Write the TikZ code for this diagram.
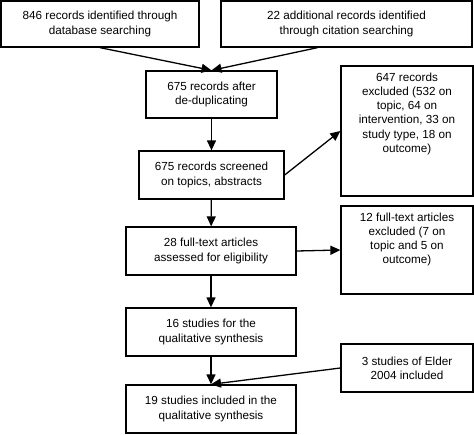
\documentclass[tikz,border=0pt]{standalone}
\usepackage{fontspec}
\setmainfont{Liberation Sans}
\usetikzlibrary{arrows.meta}

\begin{document}
\begin{tikzpicture}[x=1pt,y=-1pt,
  recbox/.style={draw=black, line width=1.3pt, align=center, inner sep=0pt,
    font=\fontsize{11.7}{14.3}\selectfont},
  sidetext/.style={align=center, anchor=north, inner sep=7pt,
    font=\fontsize{11.7}{14.3}\selectfont},
  flowarrow/.style={draw=black, line width=1.3pt, -{Triangle[length=10pt,width=9pt]}}]
\useasboundingbox (0,0) rectangle (474,434);
% identification
\node [recbox, minimum width=198, minimum height=46] (dbsearch) at (100,24)
  {846 records identified through\\database searching};
\node [recbox, minimum width=251, minimum height=46] (citesearch) at (346.5,24)
  {22 additional records identified\\through citation searching};
\node [recbox, minimum width=131, minimum height=47] (dedup) at (211.5,94.5)
  {675 records after\\de-duplicating};
% screening
\node [recbox, minimum width=145, minimum height=48] (screened) at (211.5,175)
  {675 records screened\\on topics, abstracts};
\node [recbox, minimum width=132, minimum height=130,
  label={[sidetext]north:{647 records\\excluded (532 on\\topic, 64 on\\intervention, 33 on\\study type, 18 on\\outcome)}}]
  (excl1) at (407,131) {};
% eligibility
\node [recbox, minimum width=170, minimum height=48] (fulltext) at (211,251)
  {28 full-text articles\\assessed for eligibility};
\node [recbox, minimum width=132, minimum height=88,
  label={[sidetext]north:{12 full-text articles\\excluded (7 on\\topic and 5 on\\outcome)}}]
  (excl2) at (407,250) {};
% included
\node [recbox, minimum width=170, minimum height=48] (synth16) at (211,332)
  {16 studies for the\\qualitative synthesis};
\node [recbox, minimum width=132, minimum height=48] (elder) at (407,368)
  {3 studies of Elder\\2004 included};
\node [recbox, minimum width=170, minimum height=48] (synth19) at (211,409)
  {19 studies included in the\\qualitative synthesis};
% connectors
\draw [flowarrow] (dbsearch.south) -- (dedup.north);
\draw [flowarrow] ([xshift=-29pt]citesearch.south) -- (dedup.north);
\draw [flowarrow] (dedup) -- (screened);
\draw [flowarrow] (screened.east) -- (excl1.west);
\draw [flowarrow] (screened) -- (fulltext);
\draw [flowarrow] (fulltext.east) -- (excl2.west);
\draw [flowarrow] (fulltext) -- (synth16);
\draw [flowarrow] (synth16) -- (synth19);
\draw [flowarrow] (elder.west) -- (synth19.north);
\end{tikzpicture}
\end{document}
